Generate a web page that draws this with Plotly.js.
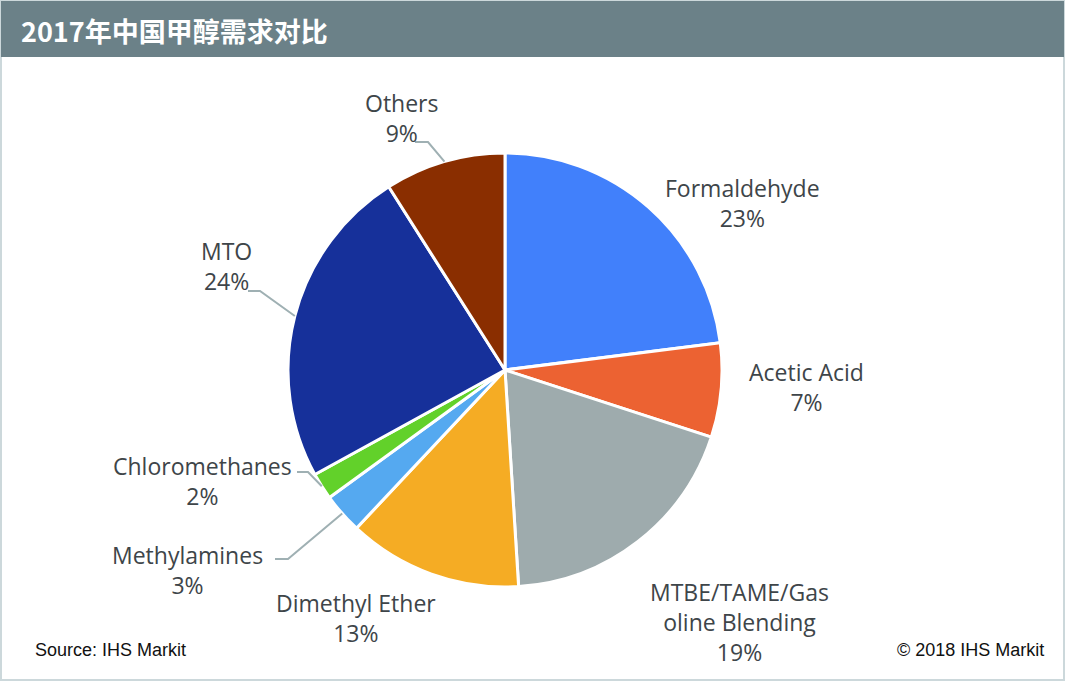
<!DOCTYPE html>
<html>
<head>
<meta charset="utf-8">
<script src="https://cdn.plot.ly/plotly-3.0.1.min.js"></script>
<style>
html,body{margin:0;padding:0;background:#fff;}
#chart{width:1065px;height:681px;}
</style>
</head>
<body>
<div id="chart"></div>
<script>
// ---- data ----
const categories = ["Formaldehyde", "Acetic Acid", "MTBE/TAME/Gas<br>oline Blending", "Dimethyl Ether", "Methylamines", "Chloromethanes", "MTO", "Others"];
const shares = [23, 7, 19, 13, 3, 2, 24, 9];
const sliceColors = ["#4180fb", "#ec6232", "#9eabad", "#f5ac24", "#55a9f0", "#62d12a", "#16309a", "#8a2e00"];
const titleText = "2017年中国甲醇需求对比";
const sourceText = "Source: IHS Markit";
const copyrightText = "© 2018 IHS Markit";

// ---- layout geometry (pixels) ----
const W = 1065, H = 681;
const cx = 505, cy = 370, R = 217;
const px = x => x / W;
const py = y => 1 - y / H;

// label anchor positions (pixel centre of the label block)
const labelPos = [
  {x: 742, y: 203},
  {x: 806, y: 387},
  {x: 739, y: 622},
  {x: 356, y: 618},
  {x: 187, y: 570},
  {x: 203, y: 481},
  {x: 226, y: 266},
  {x: 401, y: 118}
];
// leader: [start x, elbow x, y] for labels that have one (null = none)
const leaders = [null, null, null, null,
  {x0: 275, x1: 288, y: 559},
  {x0: 297, x1: 308, y: 472},
  {x0: 248, x1: 260, y: 291},
  {x0: 415, x1: 428, y: 142}
];

const total = shares.reduce((a, b) => a + b, 0);
let cum = 0;
const annotations = [];
const shapes = [];

// border + header
shapes.push({type: 'rect', xref: 'paper', yref: 'paper', x0: 0, x1: 1, y0: 0, y1: 1,
  line: {color: '#ccd8db', width: 4}, fillcolor: 'rgba(0,0,0,0)', layer: 'below'});
shapes.push({type: 'rect', xref: 'paper', yref: 'paper', x0: px(1), x1: px(1064), y0: py(57), y1: py(1),
  line: {width: 0}, fillcolor: '#6b8188', layer: 'below'});

categories.forEach((cat, i) => {
  const mid = (cum + shares[i] / 2) / total * 2 * Math.PI;
  cum += shares[i];
  const pct = Math.round(shares[i] / total * 100) + '%';
  annotations.push({
    xref: 'paper', yref: 'paper', x: px(labelPos[i].x), y: py(labelPos[i].y),
    xanchor: 'center', yanchor: 'middle', align: 'center', showarrow: false,
    text: cat + '<br>' + pct,
    font: {family: 'Open Sans, Noto Sans, sans-serif', size: 23, color: '#3e4549'}
  });
  const L = leaders[i];
  if (L) {
    const ex = cx + R * Math.sin(mid);
    const ey = cy - R * Math.cos(mid);
    shapes.push({type: 'path', xref: 'paper', yref: 'paper',
      path: `M ${px(L.x0)} ${py(L.y)} L ${px(L.x1)} ${py(L.y)} L ${px(ex)} ${py(ey)}`,
      line: {color: '#9fb0b3', width: 2}});
  }
});

annotations.push({xref: 'paper', yref: 'paper', x: px(33), y: py(650), xanchor: 'left', yanchor: 'middle',
  showarrow: false, text: sourceText, font: {family: 'Liberation Sans, Arial, sans-serif', size: 18, color: '#111'}});
annotations.push({xref: 'paper', yref: 'paper', x: px(1046), y: py(650), xanchor: 'right', yanchor: 'middle',
  showarrow: false, text: copyrightText, font: {family: 'Liberation Sans, Arial, sans-serif', size: 18, color: '#111'}});
annotations.push({xref: 'paper', yref: 'paper', x: px(19), y: py(30), xanchor: 'left', yanchor: 'middle',
  showarrow: false, text: '<b>' + titleText + '</b>',
  font: {family: 'Noto Sans CJK SC, sans-serif', size: 27, color: '#ffffff'}});

const trace = {
  type: 'pie',
  labels: categories,
  values: shares,
  sort: false,
  direction: 'clockwise',
  rotation: 0,
  textinfo: 'none',
  hoverinfo: 'label+percent',
  marker: {colors: sliceColors, line: {color: '#ffffff', width: 3}},
  domain: {x: [px(cx - R), px(cx + R)], y: [py(cy + R), py(cy - R)]},
  showlegend: false
};

const layout = {
  width: W, height: H,
  margin: {l: 0, r: 0, t: 0, b: 0},
  paper_bgcolor: '#ffffff',
  showlegend: false,
  shapes: shapes,
  annotations: annotations
};

Plotly.newPlot('chart', [trace], layout, {displayModeBar: false, staticPlot: true});
</script>
</body>
</html>
